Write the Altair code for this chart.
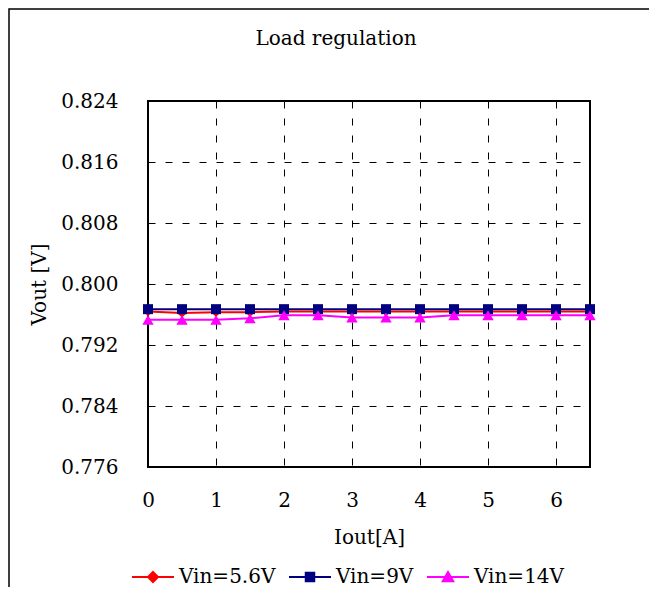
import altair as alt
import pandas as pd

iout = [0, 0.5, 1, 1.5, 2, 2.5, 3, 3.5, 4, 4.5, 5, 5.5, 6, 6.5]
v_56 = [0.7964, 0.7962, 0.7963, 0.7963, 0.7964, 0.7964, 0.7964, 0.7964, 0.7964, 0.7964, 0.7964, 0.7964, 0.7964, 0.7964]
v_9 = [0.7967] * 14
v_14 = [0.7953, 0.7953, 0.7953, 0.7955, 0.7959, 0.7959, 0.7956, 0.7956, 0.7956, 0.7959, 0.7959, 0.7959, 0.7959, 0.7959]
series = ["Vin=5.6V", "Vin=9V", "Vin=14V"]
colors = ["#ff0000", "#000080", "#ff00ff"]
markers = ["diamond", "square", "triangle-up"]
marker_sizes = [90, 100, 130]
y_ticks = [0.776, 0.784, 0.792, 0.800, 0.808, 0.816, 0.824]
x_ticks = [0, 1, 2, 3, 4, 5, 6]
title_text = "Load regulation"

rows = []
for name, vals in zip(series, [v_56, v_9, v_14]):
    for i, (x, v) in enumerate(zip(iout, vals)):
        rows.append({"Iout": x, "Vout": v, "Series": name, "order": i})
df = pd.DataFrame(rows)

FONT = "DejaVu Serif"

leg_paths = [
    "M-4.2,0H4.2M0,-1L1,0L0,1L-1,0Z",
    "M-4.2,0H4.2M-0.85,-0.85H0.85V0.85H-0.85Z",
    "M-4.2,0H4.2M0,-1L1.05,0.85H-1.05Z",
]

xs = alt.Scale(domain=[0, 6.5], nice=False, zero=False)
ys = alt.Scale(domain=[0.776, 0.824], nice=False, zero=False)

x_enc = alt.X("Iout:Q", scale=xs, title="Iout[A]",
              axis=alt.Axis(values=x_ticks, format="d", tickSize=0, labelPadding=23,
                            titlePadding=17, grid=True, gridDash=[7, 10], gridColor="black",
                            gridWidth=1, domain=False, labelFlush=False))
y_enc = alt.Y("Vout:Q", scale=ys, title="Vout [V]",
              axis=alt.Axis(values=y_ticks, format=".3f", tickSize=0, labelPadding=30,
                            titlePadding=11, grid=True, gridDash=[7, 10], gridColor="black",
                            gridWidth=1, domain=False, labelFlush=False))

border = alt.Chart(alt.Data(values=[{}])).mark_rect(
    filled=False, stroke="black", strokeWidth=1.5
).encode(x=alt.value(-139), x2=alt.value(800), y=alt.value(-92), y2=alt.value(800))

title_layer = alt.Chart(alt.Data(values=[{"t": title_text}])).mark_text(
    font=FONT, fontSize=20, color="black", align="center", baseline="middle"
).encode(text="t:N", x=alt.value(188), y=alt.value(-62))

layers = [border, title_layer]
for name, col, mk, sz in zip(series, colors, markers, marker_sizes):
    sub = df[df["Series"] == name]
    base = alt.Chart(sub)
    layers.append(base.mark_line(strokeWidth=2, color=col).encode(x=x_enc, y=y_enc, order="order:Q"))
for name, col, mk, sz in zip(series, colors, markers, marker_sizes):
    sub = df[df["Series"] == name]
    base = alt.Chart(sub)
    layers.append(base.mark_point(filled=True, size=sz, opacity=1, color=col, shape=mk).encode(
        x=alt.X("Iout:Q", scale=xs), y=alt.Y("Vout:Q", scale=ys)))

leg = alt.Legend(orient="none", legendX=-5, legendY=466, direction="horizontal",
                 title=None, symbolSize=100, labelOffset=16, columnPadding=9,
                 labelFont=FONT, labelFontSize=20, labelColor="black",
                 symbolStrokeWidth=2, symbolOpacity=1)
legend_layer = alt.Chart(df).transform_filter("false").mark_point(filled=True, opacity=1).encode(
    x=alt.X("Iout:Q", scale=xs), y=alt.Y("Vout:Q", scale=ys),
    color=alt.Color("Series:N", scale=alt.Scale(domain=series, range=colors), legend=leg),
    stroke=alt.Stroke("Series:N", scale=alt.Scale(domain=series, range=colors), legend=leg),
    shape=alt.Shape("Series:N", scale=alt.Scale(domain=series, range=leg_paths), legend=leg),
)
layers.append(legend_layer)

chart = alt.layer(*layers).properties(
    width=442, height=366,
    background="white",
    autosize=alt.AutoSizeParams(type="none"),
    padding={"left": 140, "top": 93, "right": 59, "bottom": 120},
).configure_view(stroke="black", strokeWidth=2).configure_axis(
    labelFont=FONT, labelFontSize=20, labelColor="black",
    titleFont=FONT, titleFontSize=20, titleFontWeight="normal", titleColor="black",
)

chart.save("out.html", embed_options={"renderer": "svg", "actions": False})
